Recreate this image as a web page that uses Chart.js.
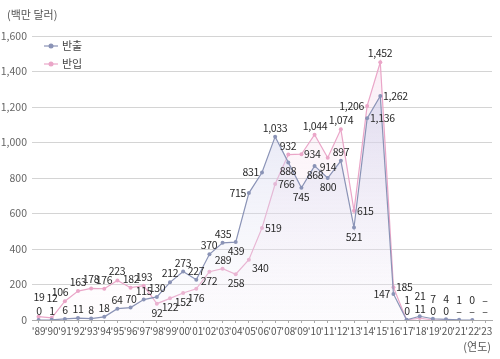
<!DOCTYPE html>
<html><head><meta charset="utf-8">
<script src="https://cdn.jsdelivr.net/npm/chart.js@4/dist/chart.umd.min.js"></script>
<style>html,body{margin:0;padding:0;background:#fff}#wrap{width:500px;height:359px}</style>
</head><body><div id="wrap"><canvas id="c" width="500" height="359"></canvas></div>
<script>
const years = ["'89","'90","'91","'92","'93","'94","'95","'96","'97","'98","'99","'00","'01","'02","'03","'04","'05","'06","'07","'08","'09","'10","'11","'12","'13","'14","'15","'16","'17","'18","'19","'20","'21","'22","'23"];
const outbound = [0,1,6,11,8,18,64,70,115,130,212,273,227,370,435,439,715,831,1033,888,745,868,800,897,521,1136,1262,147,1,21,7,4,1,0,null];
const inbound = [19,12,106,163,178,176,223,182,193,92,122,152,176,272,289,258,340,519,766,932,934,1044,914,1074,615,1206,1452,185,0,11,0,0,null,null,null];
const yTicks = [0,200,400,600,800,1000,1200,1400,1600];
const seriesNames = ['반출','반입'];
// label placement codes (style only)
const outPos = ['t','t','t','t','t','t','t','t','t','t','t','t','t','t','t','b','l','l','t','b','b','b','b','t','b','r','r','l','tt','tt','tt','tt','tt','tt','tt'];
const inPos = ['tt','tt','tl','t','t','t','t','t','t','b','b','b','b','b','t','b','br','r','r','t','r','t','b','t','r','l','t','r','t','t','t','t','t','t','t'];

const FONT = "'Noto Sans CJK KR', 'Noto Sans', sans-serif";
const BLUE = '#8a93b6', PINK = '#eaa6c8';

function grad(ctx, top, bottom){
  const ch = ctx.chart, a = ch.chartArea;
  if(!a) return top;
  const g = ch.ctx.createLinearGradient(0, a.top, 0, a.bottom);
  g.addColorStop(0, top); g.addColorStop(1, bottom);
  return g;
}

const labelPlugin = {
  id:'vlabels',
  afterDatasetsDraw(chart){
    const c = chart.ctx, xs = chart.scales.x, ys = chart.scales.y;
    c.save();
    c.font = '10.5px ' + FONT;
    c.letterSpacing = '-0.3px';
    c.fillStyle = '#2a2a2a';
    const sets = [[outbound,outPos],[inbound,inPos]];
    sets.forEach(([vals,pos])=>{
      vals.forEach((v,i)=>{
        const x = xs.getPixelForValue(i), y = ys.getPixelForValue(v==null?0:v);
        const txt = v==null ? '–' : v.toLocaleString('en-US');
        let dx=0, dy=0, al='center';
        switch(pos[i]){
          case 't': dy=-9; break;
          case 'tt': dy=-20; break;
          case 'b': dy=9; break;
          case 'l': dx=-3; al='right'; break;
          case 'r': dx=3; al='left'; break;
          case 'tl': dx=-5; dy=-9; al='center'; break;
          case 'br': dx=3; dy=8; al='left'; break;
        }
        c.textAlign = al; c.textBaseline='middle';
        c.fillText(txt, Math.round(x+dx), Math.round(y+dy));
      });
    });
    c.letterSpacing = '0px';
    // axis titles
    c.fillStyle = '#555';
    c.font = '11px ' + FONT;
    c.textAlign='left'; c.textBaseline='middle';
    c.fillText('(백만 달러)', 7, 15);
    c.textAlign='right';
    c.fillText('(연도)', 491, 347);
    // legend
    const items = [[seriesNames[0], BLUE, 46],[seriesNames[1], PINK, 64]];
    items.forEach(([t,col,yy])=>{
      c.strokeStyle = col; c.lineWidth = 1.2;
      c.beginPath(); c.moveTo(44,yy); c.lineTo(58,yy); c.stroke();
      c.fillStyle = col; c.beginPath(); c.arc(51,yy,2.5,0,Math.PI*2); c.fill();
      c.fillStyle = '#444'; c.textAlign='left';
      c.font = '11px ' + FONT;
      c.fillText(t, 62, yy);
    });
    c.restore();
  }
};

new Chart(document.getElementById('c'), {
  type:'line',
  data:{
    labels: years,
    datasets:[
      {label:seriesNames[0], data:outbound, borderColor:BLUE, borderWidth:1.2, pointRadius:2, pointBackgroundColor:BLUE, pointBorderWidth:0,
       fill:'origin', backgroundColor:(ctx)=>grad(ctx,'rgba(190,192,228,0.6)','rgba(240,240,250,0.15)'), tension:0, order:1},
      {label:seriesNames[1], data:inbound, borderColor:PINK, borderWidth:1.2, pointRadius:2, pointBackgroundColor:PINK, pointBorderWidth:0,
       fill:'origin', backgroundColor:(ctx)=>grad(ctx,'rgba(240,200,225,0.35)','rgba(250,235,245,0.1)'), tension:0, order:2}
    ]
  },
  options:{
    responsive:false, animation:false, devicePixelRatio:1,
    layout:{padding:{top:36,right:8,bottom:23,left:0}},
    plugins:{legend:{display:false}, tooltip:{enabled:false}},
    scales:{
      x:{offset:true,
         grid:{display:true, drawOnChartArea:false, tickLength:3, color:'#aaa'},
         border:{display:true, color:'#aaa'},
         ticks:{font:{family:FONT,size:10}, color:'#555', padding:2, maxRotation:0, autoSkip:false},
         afterFit(s){s.height=16;}},
      y:{min:0,max:1600,
         afterBuildTicks(s){s.ticks = yTicks.map(v=>({value:v}));},
         grid:{color:'#d4d4d4', drawTicks:false, lineWidth:1},
         border:{display:false},
         ticks:{font:{family:FONT,size:10.5}, color:'#666', padding:5, callback:(v)=>Number(v).toLocaleString('en-US')},
         afterFit(s){s.width=32;}}
    }
  },
  plugins:[labelPlugin]
});
</script>
</body></html>
